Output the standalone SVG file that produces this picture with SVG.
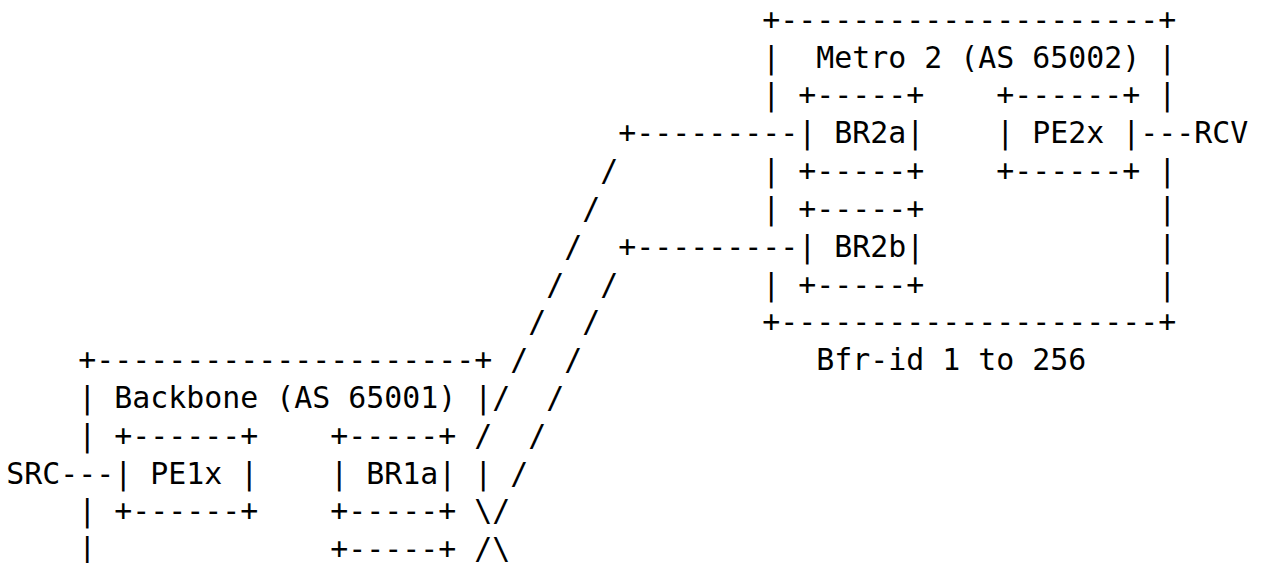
<svg xmlns="http://www.w3.org/2000/svg" width="1268" height="563" viewBox="0 0 1268 563" xml:space="preserve">
  <style>
    .t { font-family: "DejaVu Sans Mono", "Liberation Mono", monospace; font-size: 29.9px; fill: #000; white-space: pre; }
  </style>
  <rect width="1268" height="563" fill="#fff"/>

  <!-- Metro 2 domain (columns 42..64, rows 1..9) -->
  <g id="node-metro2" class="t">
    <text x="762.3" y="29.7">+---------------------+</text>
    <text x="762.3" y="67.53">|</text>
    <text x="816.3" y="67.53">Metro 2 (AS 65002)</text>
    <text x="1158.3" y="67.53">|</text>
    <text x="762.3" y="105.36">|</text>
    <text x="1158.3" y="105.36">|</text>
    <text x="762.3" y="181.02">|</text>
    <text x="1158.3" y="181.02">|</text>
    <text x="762.3" y="218.85">|</text>
    <text x="1158.3" y="218.85">|</text>
    <text x="1158.3" y="256.68">|</text>
    <text x="762.3" y="294.51">|</text>
    <text x="1158.3" y="294.51">|</text>
    <text x="762.3" y="332.34">+---------------------+</text>
  </g>
  <g id="label-bfr-id" class="t">
    <text x="816.3" y="370.17">Bfr-id 1 to 256</text>
  </g>

  <g id="node-br2a" class="t">
    <text x="798.3" y="105.36">+-----+</text>
    <text x="798.3" y="143.19">| BR2a|</text>
    <text x="798.3" y="181.02">+-----+</text>
  </g>
  <g id="node-pe2x" class="t">
    <text x="996.3" y="105.36">+------+</text>
    <text x="996.3" y="143.19">| PE2x |</text>
    <text x="996.3" y="181.02">+------+</text>
  </g>
  <g id="node-br2b" class="t">
    <text x="798.3" y="218.85">+-----+</text>
    <text x="798.3" y="256.68">| BR2b|</text>
    <text x="798.3" y="294.51">+-----+</text>
  </g>
  <g id="node-rcv" class="t">
    <text x="1194.3" y="143.19">RCV</text>
  </g>

  <!-- Backbone domain (columns 4..26, rows 10..15) -->
  <g id="node-backbone" class="t">
    <text x="78.3" y="370.17">+---------------------+</text>
    <text x="78.3" y="408">|</text>
    <text x="114.3" y="408">Backbone (AS 65001)</text>
    <text x="474.3" y="408">|</text>
    <text x="78.3" y="445.83">|</text>
    <text x="474.3" y="483.66">|</text>
    <text x="78.3" y="521.49">|</text>
    <text x="78.3" y="559.32">|</text>
  </g>
  <g id="node-pe1x" class="t">
    <text x="114.3" y="445.83">+------+</text>
    <text x="114.3" y="483.66">| PE1x |</text>
    <text x="114.3" y="521.49">+------+</text>
  </g>
  <g id="node-br1a" class="t">
    <text x="330.3" y="445.83">+-----+</text>
    <text x="330.3" y="483.66">| BR1a|</text>
    <text x="330.3" y="521.49">+-----+</text>
  </g>
  <g id="node-br1b" class="t">
    <text x="330.3" y="559.32">+-----+</text>
  </g>
  <g id="node-src" class="t">
    <text x="6.3" y="483.66">SRC</text>
  </g>

  <!-- Links -->
  <g id="connectors" class="t">
    <text x="618.3" y="143.19">+---------</text>
    <text x="1140.3" y="143.19">---</text>
    <text x="618.3" y="256.68">+---------</text>
    <text x="60.3" y="483.66">---</text>
    <!-- link from BR2a -->
    <text x="600.3" y="181.02">/</text>
    <text x="582.3" y="218.85">/</text>
    <text x="564.3" y="256.68">/</text>
    <text x="546.3" y="294.51">/</text>
    <text x="528.3" y="332.34">/</text>
    <text x="510.3" y="370.17">/</text>
    <text x="492.3" y="408">/</text>
    <text x="474.3" y="445.83">/</text>
    <!-- link from BR2b -->
    <text x="600.3" y="294.51">/</text>
    <text x="582.3" y="332.34">/</text>
    <text x="564.3" y="370.17">/</text>
    <text x="546.3" y="408">/</text>
    <text x="528.3" y="445.83">/</text>
    <text x="510.3" y="483.66">/</text>
    <text x="474.3" y="521.49">\/</text>
    <text x="474.3" y="559.32">/\</text>
  </g>
</svg>
